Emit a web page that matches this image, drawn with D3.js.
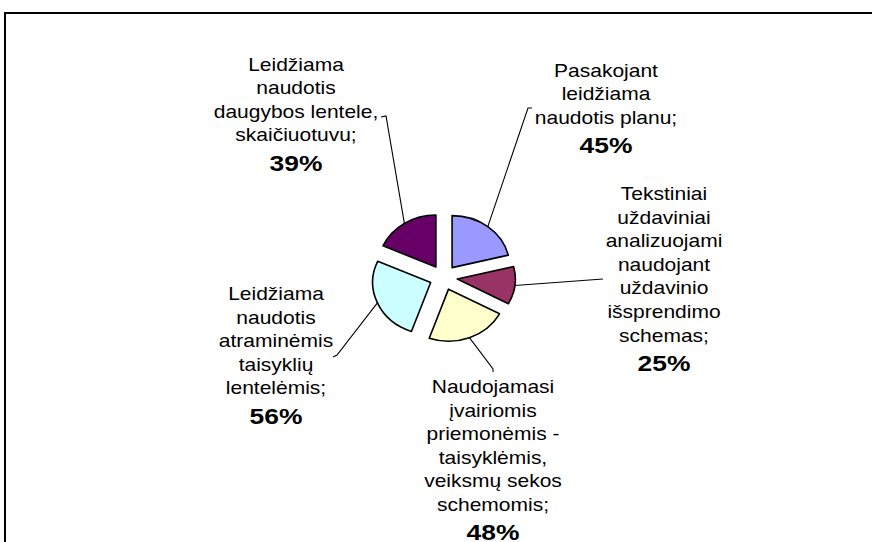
<!DOCTYPE html>
<html>
<head>
<meta charset="utf-8">
<script src="https://cdn.jsdelivr.net/npm/d3@7"></script>
<style>
  body { margin: 0; background: #fff; }
  svg { display: block; }
</style>
</head>
<body>
<div id="chart"></div>
<script>
// slice values (percent of respondents), clockwise from 12 o'clock
const values = [45, 25, 48, 56, 39];
const labelLines = [
    ["Pasakojant", "leidžiama", "naudotis planu;"],
    ["Tekstiniai", "uždaviniai", "analizuojami", "naudojant", "uždavinio", "išsprendimo", "schemas;"],
    ["Naudojamasi", "įvairiomis", "priemonėmis -", "taisyklėmis,", "veiksmų sekos", "schemomis;"],
    ["Leidžiama", "naudotis", "atraminėmis", "taisyklių", "lentelėmis;"],
    ["Leidžiama", "naudotis", "daugybos lentele,", "skaičiuotuvu;"]
];
const colors = ["#9999FF", "#993366", "#FFFFCC", "#CCFFFF", "#660066"];

// label layout: centre x, first baseline, leader points near the label
const labelPos = [
    {x: 606, y: 76.5, leader: [[532, 108], [528, 108]]},
    {x: 664, y: 200, leader: [[603, 279]]},
    {x: 493, y: 393, leader: [[493, 372], [493, 369]]},
    {x: 276, y: 300, leader: [[333, 357], [337, 355]]},
    {x: 296, y: 70.5, leader: [[381, 117], [386, 116]]}
];

const width = 872, height = 542;
const cx = 443.5, cy = 277.5;
const radius = 52, explode = 12.5;
const sx = 1.115;            // the picture is stretched sideways
const lineH = 23.6, pctGap = 29.5;

const svg = d3.select("#chart").append("svg")
    .attr("width", width).attr("height", height);

svg.append("rect")
    .attr("x", 5).attr("y", 13)
    .attr("width", width + 20).attr("height", height + 20)
    .attr("fill", "#fff").attr("stroke", "#000").attr("stroke-width", 2);

const pie = d3.pie().sort(null).value(d => d)(values);
const arc = d3.arc().innerRadius(0).outerRadius(radius);

// position of a point at angle a, distance r from the (stretched) centre
function polar(a, r) {
    return [cx + sx * r * Math.sin(a), cy - r * Math.cos(a)];
}

const slices = svg.append("g").selectAll("path")
    .data(pie)
    .enter().append("path")
    .attr("d", arc)
    .attr("transform", function(d) {
        let mid = (d.startAngle + d.endAngle) / 2;
        let p = polar(mid, explode);
        return `translate(${p[0]},${p[1]}) scale(${sx},1)`;
    })
    .attr("fill", (d, i) => colors[i])
    .attr("stroke", "#000")
    .attr("stroke-width", 1.6)
    .attr("vector-effect", "non-scaling-stroke")
    .attr("stroke-linejoin", "round");

// leader lines: from the label to the middle of the slice's outer edge
svg.append("g").selectAll("path")
    .data(pie)
    .enter().append("path")
    .attr("d", function(d, i) {
        let mid = (d.startAngle + d.endAngle) / 2;
        let pts = labelPos[i].leader.concat([polar(mid, explode + radius)]);
        return d3.line()(pts);
    })
    .attr("fill", "none")
    .attr("stroke", "#000")
    .attr("stroke-width", 1.1);

const labels = svg.append("g").selectAll("g")
    .data(pie)
    .enter().append("g")
    .attr("transform", (d, i) => `translate(${labelPos[i].x},${labelPos[i].y}) scale(1.2,1)`)
    .attr("text-anchor", "middle")
    .attr("font-family", "'Liberation Sans', Arial, sans-serif")
    .attr("fill", "#000");

labels.each(function(d, i) {
    let g = d3.select(this);
    let lines = labelLines[i];
    lines.forEach(function(t, k) {
        g.append("text")
            .attr("y", k * lineH)
            .attr("font-size", "17.5px")
            .text(t);
    });
    g.append("text")
        .attr("y", (lines.length - 1) * lineH + pctGap)
        .attr("font-size", "22px")
        .attr("font-weight", "bold")
        .text(`${d.data}%`);
});
</script>
</body>
</html>
